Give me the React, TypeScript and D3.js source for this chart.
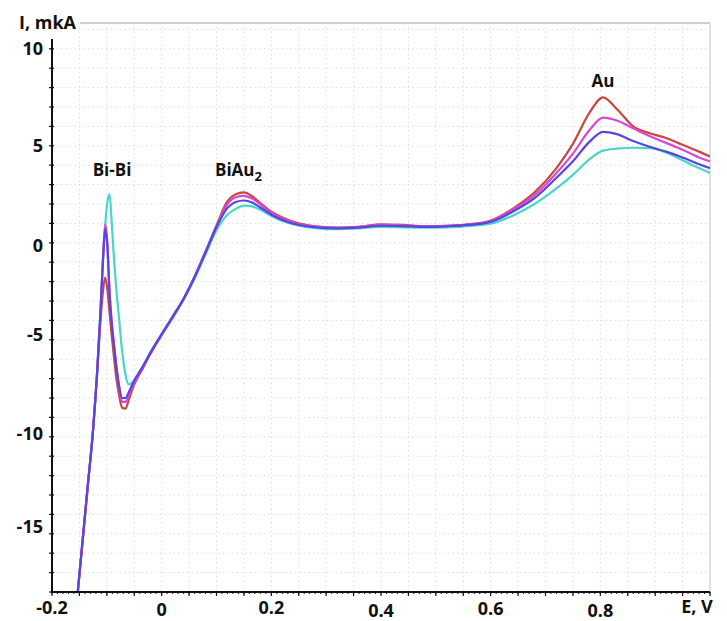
import React from "react";
import * as d3 from "d3";

const potential = [-0.153, -0.145, -0.135, -0.125, -0.118, -0.112, -0.107, -0.103, -0.099, -0.095,
  -0.091, -0.087, -0.083, -0.078, -0.072, -0.066, -0.06, -0.05, -0.035, -0.02,
  0, 0.02, 0.04, 0.06, 0.08, 0.1, 0.12, 0.135, 0.15, 0.165,
  0.18, 0.2, 0.22, 0.25, 0.28, 0.32, 0.36, 0.4, 0.44, 0.48,
  0.52, 0.56, 0.6, 0.64, 0.68, 0.72, 0.75, 0.78, 0.805, 0.83,
  0.86, 0.89, 0.92, 0.95, 0.98, 1.0];

const currentRed = [-18, -15.6, -12.6, -9.6, -6.9, -4.2, -2.5, -1.8, -2.4, -3.6,
  -4.8, -5.9, -6.9, -7.8, -8.5, -8.55, -8.1, -7.3, -6.5, -5.7,
  -4.75, -3.85, -2.9, -1.75, -0.45, 0.9, 2.15, 2.5, 2.6, 2.4,
  2.05, 1.6, 1.3, 1.0, 0.85, 0.78, 0.82, 0.95, 0.92, 0.85,
  0.88, 0.95, 1.15, 1.75, 2.6, 3.85, 5.1, 6.7, 7.5, 6.9,
  6.0, 5.65, 5.4, 5.05, 4.7, 4.45];

const currentMagenta = [-18, -15.6, -12.6, -9.6, -6.8, -3.8, -0.8, 0.95, 0.0, -2.5,
  -4.1, -5.2, -6.3, -7.4, -8.2, -8.2, -7.85, -7.2, -6.45, -5.65,
  -4.72, -3.82, -2.88, -1.75, -0.47, 0.85, 2.0, 2.35, 2.42, 2.28,
  1.98, 1.55, 1.25, 0.97, 0.83, 0.77, 0.82, 0.93, 0.9, 0.85,
  0.87, 0.94, 1.12, 1.7, 2.45, 3.6, 4.6, 5.8, 6.45, 6.3,
  5.9, 5.5, 5.15, 4.8, 4.4, 4.2];

const currentBlue = [-18, -15.6, -12.6, -9.6, -6.8, -3.8, -0.9, 0.7, -0.2, -2.7,
  -4.2, -5.3, -6.3, -7.3, -8.0, -8.0, -7.7, -7.1, -6.4, -5.65,
  -4.7, -3.8, -2.88, -1.78, -0.5, 0.8, 1.8, 2.1, 2.18, 2.08,
  1.82, 1.45, 1.18, 0.92, 0.8, 0.74, 0.78, 0.88, 0.86, 0.82,
  0.85, 0.92, 1.08, 1.6, 2.3, 3.35, 4.2, 5.2, 5.72, 5.6,
  5.25, 4.95, 4.7, 4.4, 4.05, 3.85];

const currentCyan = [-18, -15.6, -12.6, -9.6, -6.8, -3.7, -0.9, 0.9, 2.1, 2.5,
  1.0, -0.8, -2.3, -3.8, -5.6, -6.8, -7.3, -7.1, -6.4, -5.6,
  -4.75, -3.9, -2.95, -1.85, -0.6, 0.65, 1.45, 1.75, 1.92, 1.88,
  1.7, 1.38, 1.12, 0.88, 0.76, 0.7, 0.74, 0.82, 0.8, 0.78,
  0.8, 0.86, 0.98, 1.4, 2.0, 2.8, 3.5, 4.3, 4.75, 4.85,
  4.9, 4.88, 4.65, 4.25, 3.85, 3.6];

const seriesNames = ["cyan", "red", "magenta", "blue"];
const seriesColors = ["#48d6cc", "#c9473f", "#dc46d6", "#5546e4"];
const seriesValues = [currentCyan, currentRed, currentMagenta, currentBlue];

const xTickValues = [-0.2, 0, 0.2, 0.4, 0.6, 0.8];
const xTickLabels = ["-0.2", "0", "0.2", "0.4", "0.6", "0.8"];
const yTickValues = [10, 5, 0, -5, -10, -15];
const yTickLabels = ["10", "5", "0", "-5", "-10", "-15"];

const xAxisTitle = "E, V";
const yAxisTitle = "I, mkA";

const W = 727;
const H = 621;
const X0 = 52;
const X1 = 710;
const Y0 = 592;
const TOP = 23;

export default function App() {
  const x = d3.scaleLinear().domain([-0.2, 1.0]).range([X0, X1]);
  const y = d3.scaleLinear().domain([-18, 10]).range([Y0, 48.8]);

  const line = d3
    .line<number>()
    .x((_, i) => x(potential[i]))
    .y((d) => y(d))
    .curve(d3.curveMonotoneX);

  const hGrid = d3.range(-17, 12, 1);
  const vGrid = d3.range(-0.15, 0.999, 0.05);
  const xMinor = d3.range(-0.2, 1.0001, 0.01);
  const xMid = d3.range(-0.2, 1.0001, 0.05);
  const yMinor = d3.range(-18, 10.5, 1);

  const font = "'Open Sans', 'Liberation Sans', sans-serif";
  const xLabelDy = [0, 2, 0, 3, 1, 3];
  const yLabelDy = [0, 0, 3, -5, -3, -7];

  return (
    <svg
      width={W}
      height={H}
      viewBox={`0 0 ${W} ${H}`}
      style={{ position: "absolute", left: 0, top: 0, background: "#fff" }}
    >
      <defs>
        <clipPath id="plot">
          <rect x={X0} y={TOP} width={X1 - X0} height={Y0 - TOP} />
        </clipPath>
      </defs>
      {/* grid */}
      <g stroke="#dcdcdc" strokeWidth={1} strokeDasharray="1.5,3">
        {hGrid.map((v) => (
          <line key={"h" + v} x1={X0} x2={X1} y1={y(v)} y2={y(v)} />
        ))}
        {vGrid.map((v, i) => (
          <line key={"v" + i} x1={x(v)} x2={x(v)} y1={TOP + 4} y2={Y0} />
        ))}
      </g>
      <line x1={80} x2={X1} y1={TOP} y2={TOP} stroke="#cfcfcf" strokeWidth={2} />
      <line x1={X1} x2={X1} y1={TOP} y2={Y0} stroke="#d6d6d6" strokeWidth={1.5} />

      {/* curves */}
      <g clipPath="url(#plot)" fill="none" strokeWidth={2.2} strokeLinejoin="round">
        {seriesValues.map((vals, i) => (
          <path key={seriesNames[i]} d={line(vals) || ""} stroke={seriesColors[i]} />
        ))}
      </g>

      {/* axes */}
      <g stroke="#111">
        <line x1={X0} x2={X0} y1={39} y2={Y0 + 1} strokeWidth={2} />
        <line x1={X0 - 1} x2={X1} y1={Y0} y2={Y0} strokeWidth={2} />
        {xMinor.map((v, i) => (
          <line key={"xm" + i} x1={x(v)} x2={x(v)} y1={Y0} y2={Y0 + 2} strokeWidth={1} />
        ))}
        {xMid.map((v, i) => (
          <line key={"xd" + i} x1={x(v)} x2={x(v)} y1={Y0} y2={Y0 + 4} strokeWidth={1.2} />
        ))}
        {yMinor.map((v, i) => (
          <line key={"ym" + i} x1={X0 - 3} x2={X0 + 2} y1={y(v)} y2={y(v)} strokeWidth={1.2} />
        ))}
      </g>

      <g fontFamily={font} fontWeight={700} fontSize={18} fill="#111">
        {xTickValues.map((v, i) => (
          <text key={"xl" + i} x={x(v)} y={614 + xLabelDy[i]} textAnchor="middle">
            {xTickLabels[i]}
          </text>
        ))}
        {yTickValues.map((v, i) => (
          <text key={"yl" + i} x={43} y={y(v) + 6 + yLabelDy[i]} textAnchor="end">
            {yTickLabels[i]}
          </text>
        ))}
        <text x={697} y={613} textAnchor="middle">{xAxisTitle}</text>
        <text x={19} y={29}>{yAxisTitle}</text>
      </g>

      <g fontFamily={font} fontWeight={700} fontSize={17} fill="#111">
        <text x={112} y={176} textAnchor="middle">Bi-Bi</text>
        <text x={215} y={176}>
          BiAu<tspan fontSize={13} dy={5}>2</tspan>
        </text>
        <text x={603} y={87} textAnchor="middle">Au</text>
      </g>
    </svg>
  );
}
